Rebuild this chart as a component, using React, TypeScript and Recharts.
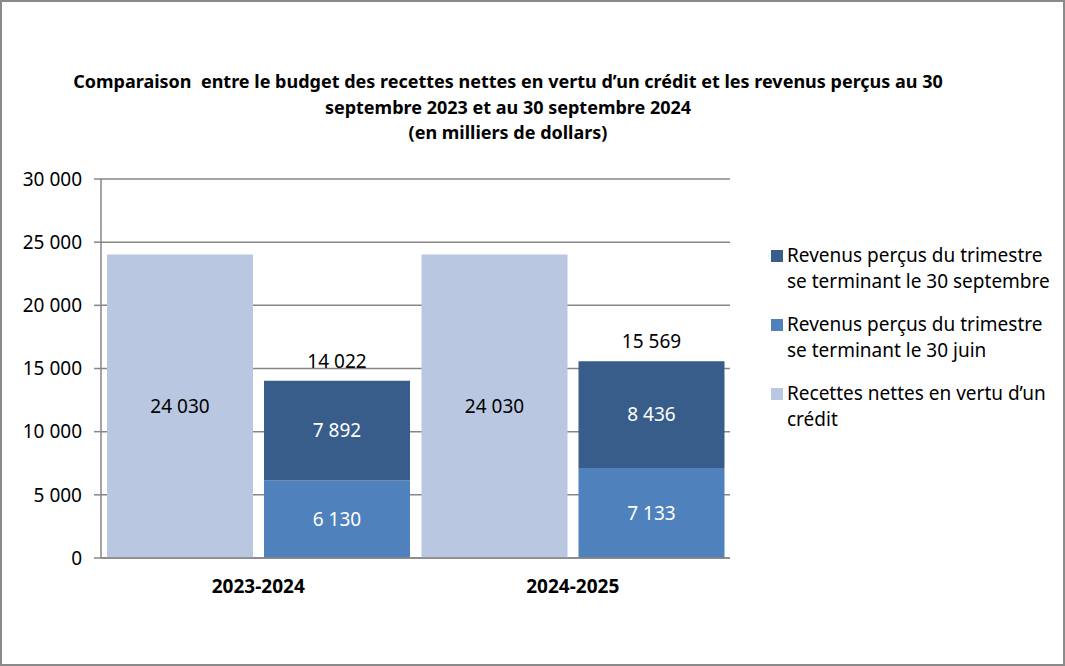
import React from 'react'
import { BarChart, Bar, XAxis, YAxis, CartesianGrid, LabelList } from 'recharts'

const categories = ['2023-2024', '2024-2025']
const credit = [24030, 24030]
const juin = [6130, 7133]
const sept = [7892, 8436]
const totals = [14022, 15569]
const yTicks = [0, 5000, 10000, 15000, 20000, 25000, 30000]

const titleLines = [
  'Comparaison  entre le budget des recettes nettes en vertu d\u2019un crédit et les revenus perçus au 30',
  'septembre 2023 et au 30 septembre 2024',
  '(en milliers de dollars)',
]

const legendItems = [
  { label: ['Revenus perçus du trimestre', 'se terminant le 30 septembre'], color: '#385D8A' },
  { label: ['Revenus perçus du trimestre', 'se terminant le 30 juin'], color: '#4F81BD' },
  { label: ['Recettes nettes en vertu d\u2019un', 'crédit'], color: '#BAC7E1' },
]

const data = categories.map((c, i) => ({
  cat: c,
  credit: credit[i],
  juin: juin[i],
  sept: sept[i],
  total: totals[i],
}))

const FONT = '"Noto Sans", "Open Sans", sans-serif'
const GRID = '#868686'

// space as thousands separator, like the original
const fmt = (v: any) => String(v).replace(/\B(?=(\d{3})+(?!\d))/g, ' ')

export default function App() {
  return (
    <div
      style={{
        position: 'absolute',
        left: 0,
        top: 0,
        width: 1065,
        height: 666,
        boxSizing: 'border-box',
        border: '2px solid #8a8a8a',
        background: '#fff',
        fontFamily: FONT,
        overflow: 'hidden',
      }}
    >
      <div
        style={{
          position: 'absolute',
          left: 0,
          top: 67,
          width: 1012,
          textAlign: 'center',
          fontWeight: 700,
          fontSize: 18,
          lineHeight: '25.5px',
          color: '#000',
        }}
      >
        {titleLines.map((t) => (
          <div key={t} style={{ whiteSpace: 'pre' }}>{t}</div>
        ))}
      </div>

      <div style={{ position: 'absolute', left: -2, top: -2 }}>
        <BarChart
          width={1065}
          height={666}
          data={data}
          margin={{ top: 179, right: 335, left: 21, bottom: 68 }}
          barCategoryGap={6}
          barGap={11}
          style={{ fontFamily: FONT }}
        >
          <CartesianGrid vertical={false} stroke={GRID} strokeWidth={1.5} />
          <XAxis
            dataKey="cat"
            height={40}
            tickLine={false}
            tickMargin={16}
            axisLine={{ stroke: GRID, strokeWidth: 1.5 }}
            tick={{ fill: '#000', fontSize: 19, fontWeight: 700 }}
          />
          <YAxis
            width={80}
            domain={[0, 30000]}
            ticks={yTicks}
            tickFormatter={fmt}
            tickSize={7}
            tickMargin={12}
            axisLine={{ stroke: GRID, strokeWidth: 1.5 }}
            tickLine={{ stroke: GRID, strokeWidth: 1.5 }}
            tick={{ fill: '#000', fontSize: 19 }}
          />
          <Bar dataKey="credit" stackId="credit" fill="#BAC7E1" isAnimationActive={false}>
            <LabelList dataKey="credit" position="center" formatter={fmt} fill="#000" fontSize={19} />
          </Bar>
          <Bar dataKey="juin" stackId="rev" fill="#4F81BD" isAnimationActive={false}>
            <LabelList dataKey="juin" position="center" formatter={fmt} fill="#fff" fontSize={19} />
          </Bar>
          <Bar dataKey="sept" stackId="rev" fill="#385D8A" isAnimationActive={false}>
            <LabelList dataKey="sept" position="center" formatter={fmt} fill="#fff" fontSize={19} />
            <LabelList dataKey="total" position="top" offset={13} formatter={fmt} fill="#000" fontSize={19} />
          </Bar>
        </BarChart>
      </div>

      <div style={{ position: 'absolute', left: 769, top: 240, fontSize: 19, lineHeight: '26px', color: '#000' }}>
        {legendItems.map((it) => (
          <div key={it.label.join(' ')} style={{ display: 'flex', marginBottom: 17 }}>
            <div style={{ width: 12, height: 12, background: it.color, marginTop: 8, marginRight: 4 }} />
            <div>
              {it.label.map((l) => (
                <div key={l} style={{ whiteSpace: 'nowrap' }}>{l}</div>
              ))}
            </div>
          </div>
        ))}
      </div>
    </div>
  )
}
